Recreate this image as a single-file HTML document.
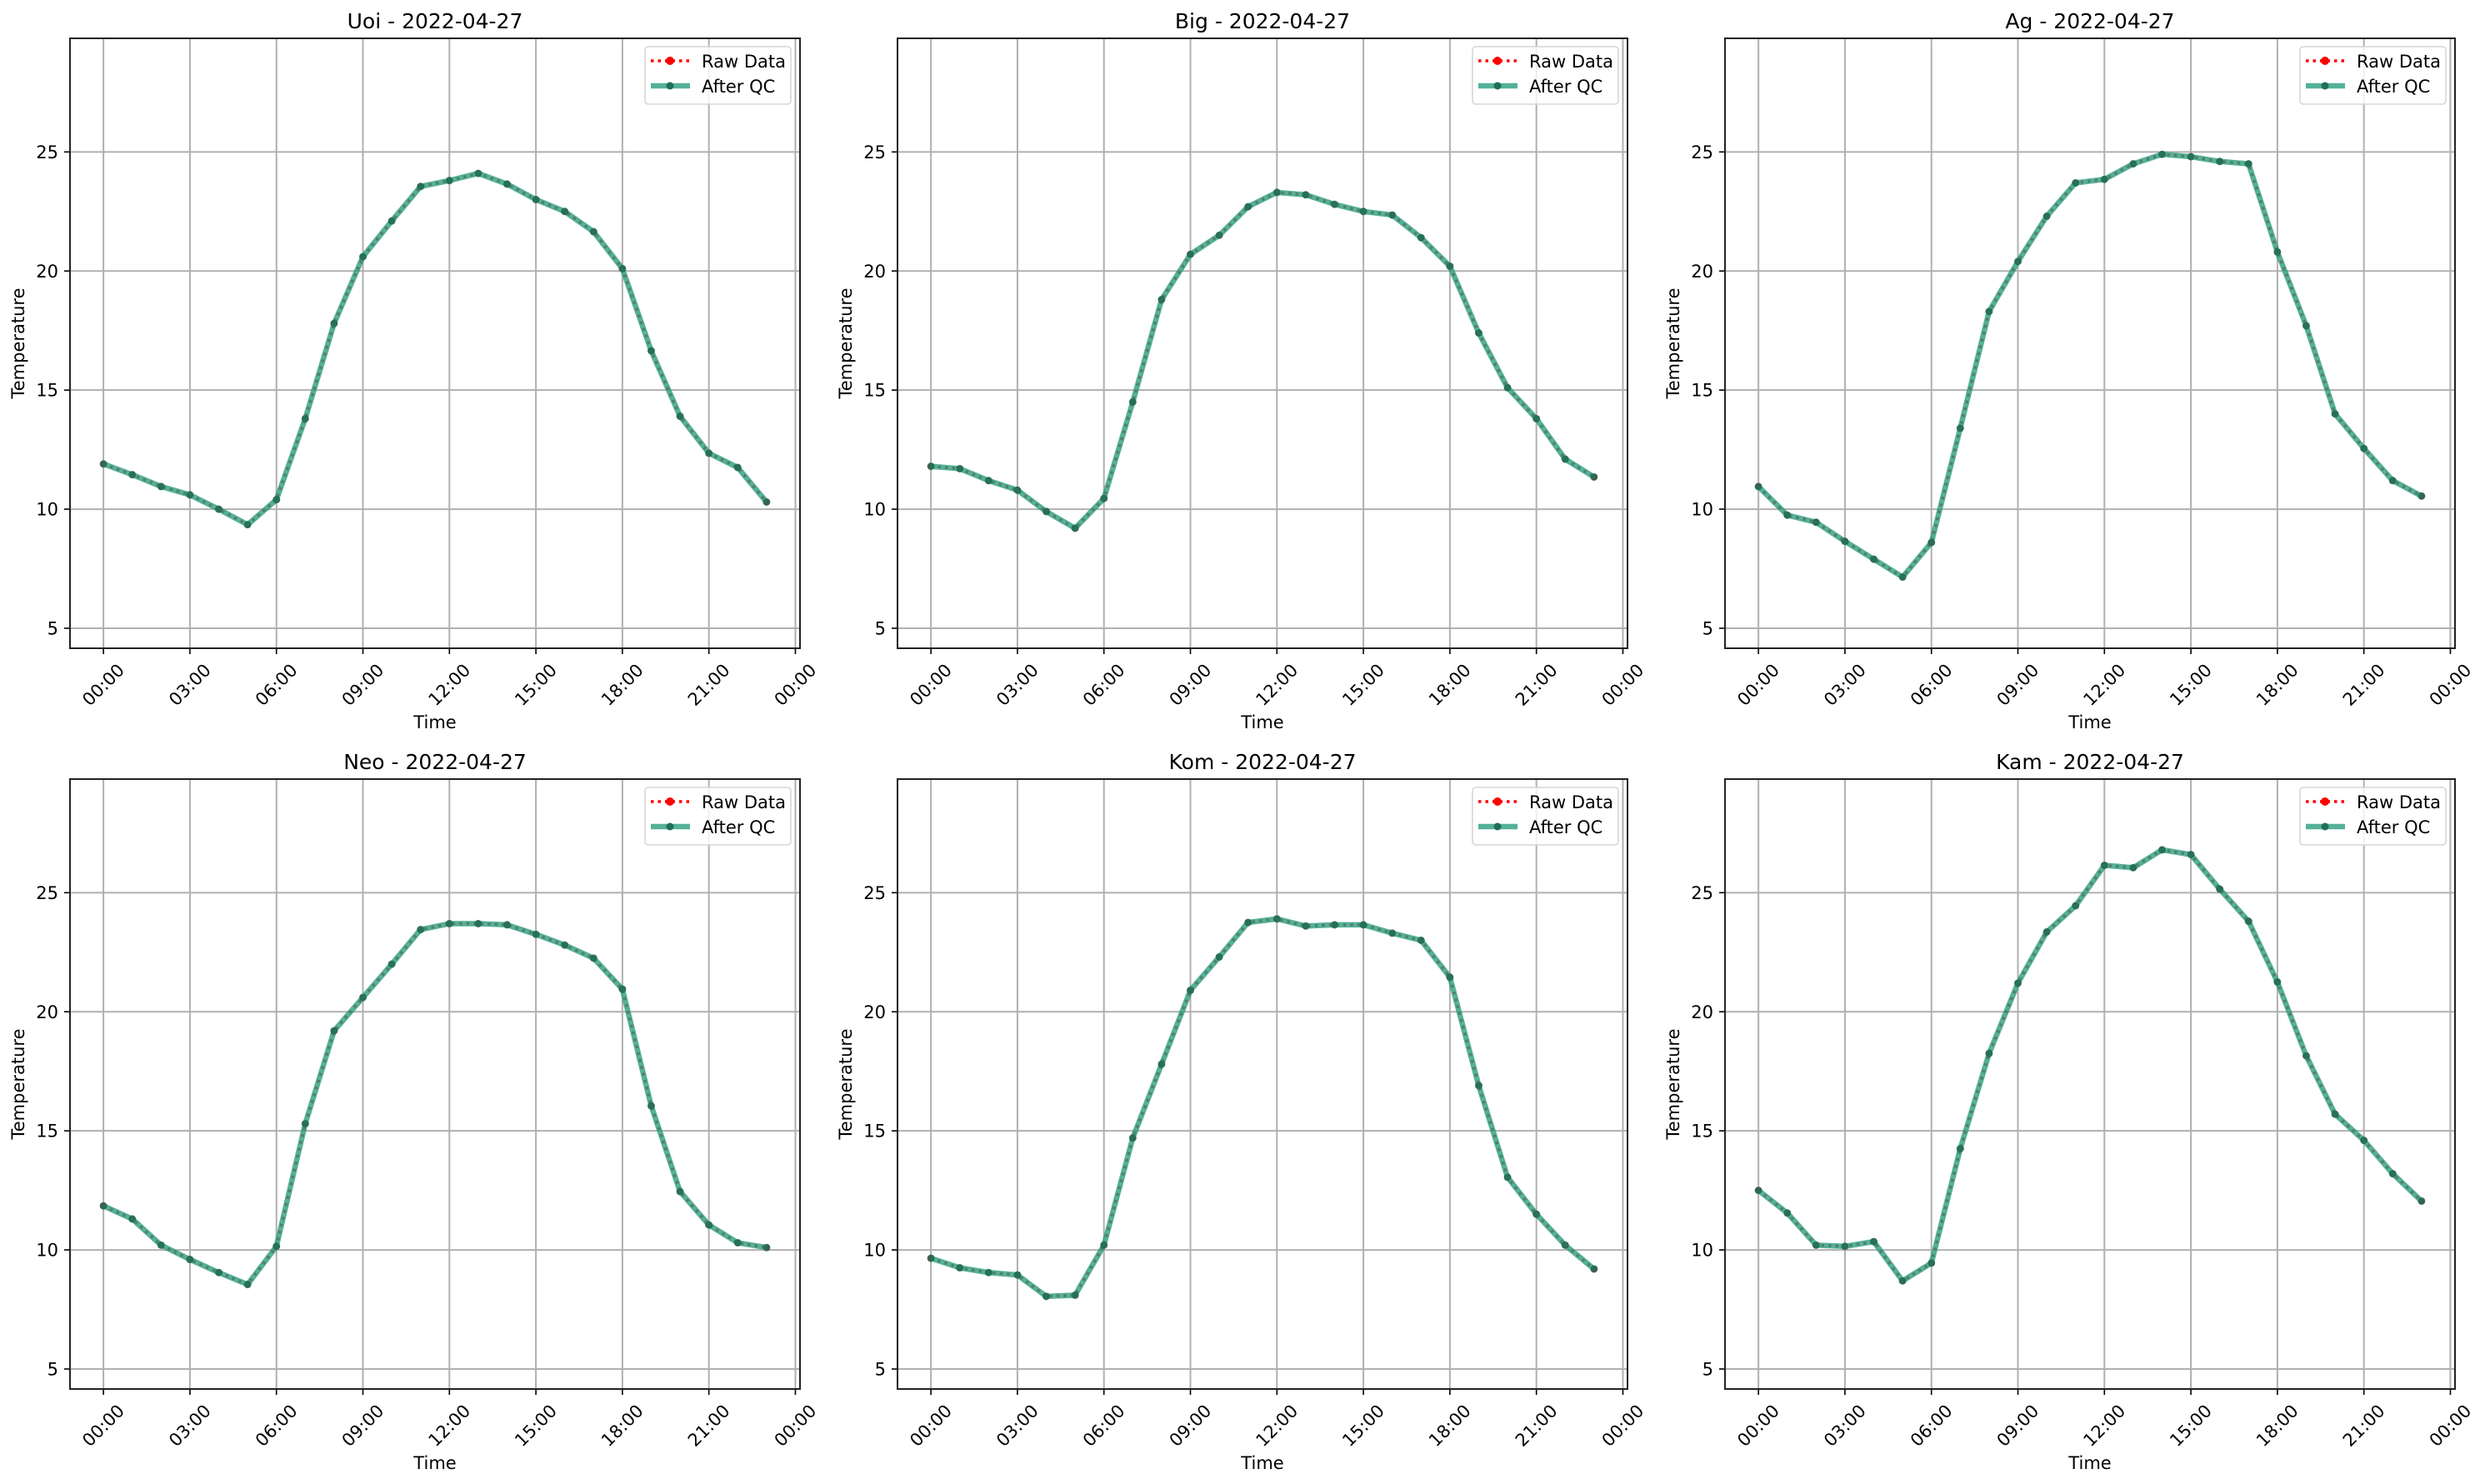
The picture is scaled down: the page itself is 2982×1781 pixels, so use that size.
<!DOCTYPE html>
<html><head><meta charset="utf-8"><style>
html,body{margin:0;padding:0;background:#fff}
svg{display:block;font-family:"DejaVu Sans","Liberation Sans",sans-serif}
</style></head><body>
<svg id="fig" width="2982" height="1781" viewBox="0 0 2982 1781" xmlns="http://www.w3.org/2000/svg"></svg>
<script>
const stations = ["Uoi","Big","Ag","Neo","Kom","Kam"];
const dateLabel = "2022-04-27";
const hours = [0,1,2,3,4,5,6,7,8,9,10,11,12,13,14,15,16,17,18,19,20,21,22,23];
const tempUoi = [11.9,11.45,10.95,10.6,10.0,9.35,10.4,13.8,17.8,20.6,22.1,23.55,23.8,24.1,23.65,23.0,22.5,21.65,20.1,16.65,13.9,12.35,11.75,10.3];
const tempBig = [11.8,11.7,11.2,10.8,9.9,9.2,10.45,14.5,18.8,20.7,21.5,22.7,23.3,23.2,22.8,22.5,22.35,21.4,20.2,17.4,15.1,13.8,12.1,11.35];
const tempAg = [10.95,9.75,9.45,8.65,7.9,7.15,8.6,13.4,18.3,20.4,22.3,23.7,23.85,24.5,24.9,24.8,24.6,24.5,20.8,17.7,14.0,12.55,11.2,10.55];
const tempNeo = [11.85,11.3,10.2,9.6,9.05,8.55,10.15,15.3,19.2,20.6,22.0,23.45,23.7,23.7,23.65,23.25,22.8,22.25,20.95,16.05,12.45,11.05,10.3,10.1];
const tempKom = [9.65,9.25,9.05,8.95,8.05,8.1,10.2,14.7,17.8,20.9,22.3,23.75,23.9,23.6,23.65,23.65,23.3,23.0,21.45,16.9,13.05,11.5,10.2,9.2];
const tempKam = [12.5,11.55,10.2,10.15,10.35,8.7,9.45,14.25,18.25,21.2,23.35,24.45,26.15,26.05,26.8,26.6,25.15,23.8,21.25,18.15,15.7,14.6,13.2,12.05];
const yTicks = [5,10,15,20,25];
const xTickHours = [0,3,6,9,12,15,18,21,24];
const xTickLabels = ["00:00","03:00","06:00","09:00","12:00","15:00","18:00","21:00","00:00"];
const yMin = 4.16, yMax = 29.77, xMin = -1.16, xMax = 24.16;

const series = [tempUoi,tempBig,tempAg,tempNeo,tempKom,tempKam];
const NS = "http://www.w3.org/2000/svg";
const fig = document.getElementById('fig');
function mk(tag, attrs, parent){const e=document.createElementNS(NS,tag);for(const k in attrs)e.setAttribute(k,attrs[k]);parent.appendChild(e);return e;}

const W = 876, H = 732;
for (let p=0;p<6;p++){
  const L = 84 + (p%3)*993, T = 46 + Math.floor(p/3)*889;
  const xs = h => L + (h - xMin)/(xMax - xMin)*W;
  const ys = v => T + H - (v - yMin)/(yMax - yMin)*H;
  const g = mk('g',{},fig);
  
  
  xTickHours.forEach((h,i)=>{
    const x = xs(h);
    const gl = mk('line',{x1:x,x2:x,y1:T,y2:T+H,stroke:'#b0b0b0','stroke-width':2},g);
    
    
    mk('line',{x1:x,x2:x,y1:T+H,y2:T+H+7,stroke:'#000','stroke-width':1.6},g);
    const t = mk('text',{x:0,y:0,'font-size':21,'text-anchor':'middle','dominant-baseline':'central',transform:`translate(${x},${T+H+44}) rotate(-45)`},g);
    t.textContent = xTickLabels[i];
    
    
  });
  yTicks.forEach(v=>{
    const y = ys(v);
    const gl = mk('line',{x1:L,x2:L+W,y1:y,y2:y,stroke:'#b0b0b0','stroke-width':2},g);
    
    
    mk('line',{x1:L-7,x2:L,y1:y,y2:y,stroke:'#000','stroke-width':1.6},g);
    const t = mk('text',{x:L-14,y:y+7.5,'font-size':21,'text-anchor':'end'},g);
    t.textContent = v;
    
    
  });
  const vals = series[p];
  const pts = hours.map((h,i)=>xs(h)+','+ys(vals[i])).join(' ');
  const raw = mk('polyline',{points:pts,fill:'none',stroke:'#ff0000','stroke-width':3.5,'stroke-dasharray':'3.5 5'},g);
  
  
  hours.forEach((h,i)=>{mk('circle',{cx:xs(h),cy:ys(vals[i]),r:4,fill:'#ff0000'},g);});
  const qc = mk('polyline',{points:pts,fill:'none',stroke:'#2a9d7f','stroke-opacity':0.8,'stroke-width':6.5,'stroke-linejoin':'round'},g);
  
  
  hours.forEach((h,i)=>{
    const c = mk('circle',{cx:xs(h),cy:ys(vals[i]),r:4.5,fill:'#1f6f55','fill-opacity':0.85},g);
    
    
  });
  const frame = mk('rect',{x:L,y:T,width:W,height:H,fill:'none',stroke:'#222','stroke-width':2},g);
  
  
  const title = mk('text',{x:L+W/2,y:T-12,'font-size':25,'text-anchor':'middle'},g);
  title.textContent = stations[p] + ' - ' + dateLabel;
  
  
  const xl = mk('text',{x:L+W/2,y:T+H+96,'font-size':21,'text-anchor':'middle'},g);
  xl.textContent = 'Time';
  
  
  const yl = mk('text',{x:0,y:0,'font-size':21,'text-anchor':'middle',transform:`translate(${L-55},${T+H/2}) rotate(-90)`},g);
  yl.textContent = 'Temperature';
  
  
  const lg = mk('g',{},g);
  
  
  const lx = L+W-186, ly = T+10;
  mk('rect',{x:lx,y:ly,width:175,height:69,rx:4,fill:'#fff','fill-opacity':0.8,stroke:'#d6d6d6','stroke-width':1.6},lg);
  mk('line',{x1:lx+7,x2:lx+54,y1:ly+17,y2:ly+17,stroke:'#ff0000','stroke-width':3.5,'stroke-dasharray':'3.5 5'},lg);
  mk('circle',{cx:lx+30,cy:ly+17,r:5,fill:'#ff0000'},lg);
  const t1 = mk('text',{x:lx+68,y:ly+25,'font-size':21},lg);
  t1.textContent = 'Raw Data';
  
  
  mk('line',{x1:lx+7,x2:lx+54,y1:ly+47,y2:ly+47,stroke:'#2a9d7f','stroke-opacity':0.8,'stroke-width':6.5},lg);
  mk('circle',{cx:lx+30,cy:ly+47,r:4.5,fill:'#1f6f55'},lg);
  const t2 = mk('text',{x:lx+68,y:ly+55,'font-size':21},lg);
  t2.textContent = 'After QC';
  
  
}
</script>
</body></html>
